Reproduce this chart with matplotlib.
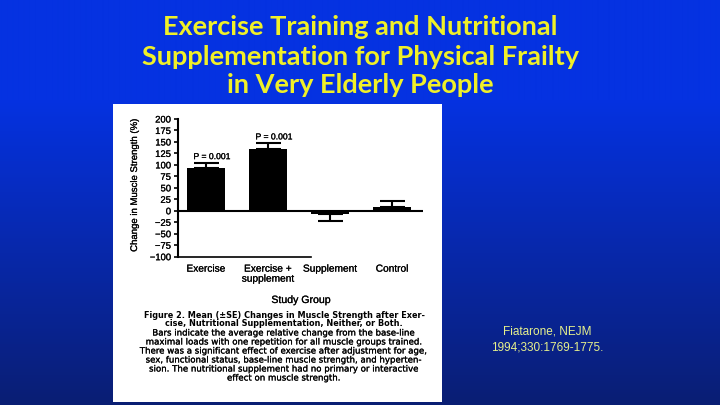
import numpy as np
import matplotlib
matplotlib.use("Agg")
import matplotlib.pyplot as plt
import matplotlib.patheffects as pe

# ---- data ----
categories = ["Exercise", "Exercise +\nsupplement", "Supplement", "Control"]
mean_change = [93, 134, -6, 9]
se_change = [11, 13, 16, 13]
p_labels = ["P = 0.001", "P = 0.001", "", ""]
y_ticks = [-100, -75, -50, -25, 0, 25, 50, 75, 100, 125, 150, 175, 200]

title_lines = ["Exercise Training and Nutritional",
               "Supplementation for Physical Frailty",
               "in Very Elderly People"]
caption_bold = ["Figure 2. Mean (\u00b1SE) Changes in Muscle Strength after Exer-",
                "cise, Nutritional Supplementation, Neither, or Both."]
caption_body = ["Bars indicate the average relative change from the base-line",
                "maximal loads with one repetition for all muscle groups trained.",
                "There was a significant effect of exercise after adjustment for age,",
                "sex, functional status, base-line muscle strength, and hyperten-",
                "sion. The nutritional supplement had no primary or interactive",
                "effect on muscle strength."]
citation = ["Fiatarone, NEJM", "1994;330:1769-1775."]

W, H = 720, 405
fig = plt.figure(figsize=(7.2, 4.05), dpi=100)
ink = [pe.withStroke(linewidth=0.15, foreground="black")]


def rect(x0, y0, x1, y1):
    return [x0 / W, 1 - y1 / H, (x1 - x0) / W, (y1 - y0) / H]


def ftext(x, y, s, **kw):
    return fig.text(x / W, 1 - y / H, s, **kw)


# background gradient
bg = fig.add_axes([0, 0, 1, 1])
bg.axis("off")
top = np.array([5, 50, 225]) / 255
bot = np.array([10, 30, 115]) / 255
ys = np.arange(H)
t = np.clip((ys - 100) / (H - 100), 0, 1)
grad = top[None, :] * (1 - t[:, None]) + bot[None, :] * t[:, None]
grad = np.repeat(grad[:, None, :], 2, axis=1)
bg.imshow(grad, aspect="auto", extent=[0, 1, 0, 1], interpolation="bilinear")
bg.set_xlim(0, 1)
bg.set_ylim(0, 1)

# white panel
panel = fig.add_axes(rect(113, 104, 442, 402))
panel.set_facecolor("white")
panel.set_xticks([])
panel.set_yticks([])
for s in panel.spines.values():
    s.set_visible(False)

# title
title_font = dict(family=["Lato", "DejaVu Sans"], fontweight="bold",
                  color="#f0f028", fontsize=19.5, ha="center", va="center")
for y, line in zip([27, 57, 85], title_lines):
    ftext(360, y, line, **title_font)

# chart axes
ax = fig.add_axes(rect(178, 119, 423, 256.7))
ax.set_facecolor("none")
x = np.arange(len(categories))
lower = [se if m < 0 else 0 for m, se in zip(mean_change, se_change)]
upper = [se if m >= 0 else 0 for m, se in zip(mean_change, se_change)]
ax.bar(x, mean_change, width=0.61, color="black", zorder=2)
ax.errorbar(x, mean_change, yerr=[lower, upper], fmt="none", ecolor="black",
            elinewidth=1.5, capsize=9, capthick=1.5, zorder=3)
ax.axhline(0, color="black", lw=1.5, zorder=4)
for xi, m, se, p in zip(x, mean_change, se_change, p_labels):
    if p:
        ax.text(xi + 0.1, m + se + 14, p, ha="center", va="center",
                fontsize=6.2, family="Liberation Sans", path_effects=ink)
ax.set_xlim(-0.45, 3.5)
ax.set_ylim(-100, 200)
ax.set_yticks(y_ticks)
ax.set_yticklabels([f"{v}".replace("-", "\u2212") for v in y_ticks],
                   fontsize=6.8, family="Liberation Sans")
ax.set_xticks(x)
ax.set_xticklabels(categories, fontsize=7.3, family="Liberation Sans",
                   linespacing=1.0)
for lab in ax.get_xticklabels() + ax.get_yticklabels():
    lab.set_path_effects(ink)
ax.tick_params(axis="x", length=0, pad=5)
ax.tick_params(axis="y", length=3, width=1.2, pad=2)
ax.spines["top"].set_visible(False)
ax.spines["right"].set_visible(False)
ax.spines["left"].set_linewidth(1.5)
ax.spines["bottom"].set_linewidth(1.2)
ax.spines["bottom"].set_bounds(-0.45, 1.7)

ftext(134, 185, "Change in Muscle Strength (%)", rotation=90, ha="center",
      va="center", fontsize=6.9, family="Liberation Sans", path_effects=ink)
ftext(301, 300, "Study Group", ha="center", va="center", fontsize=7.6,
      family="Liberation Sans", path_effects=ink)

# caption
for y, line in zip([315, 323.5], caption_bold):
    ftext(284, y, line, ha="center", va="center", fontsize=5.9,
          family="DejaVu Sans", fontweight="bold")
for y, line in zip([333, 342, 351, 360, 369, 378], caption_body):
    ftext(284, y, line, ha="center", va="center", fontsize=6.2,
          family="DejaVu Sans", path_effects=ink)

# citation
for y, line in zip([332, 348], citation):
    ftext(547, y, line, ha="center", va="center", fontsize=8.5,
          family="Liberation Sans", color="#e6f08c")

fig.savefig("out.png", dpi=100)
